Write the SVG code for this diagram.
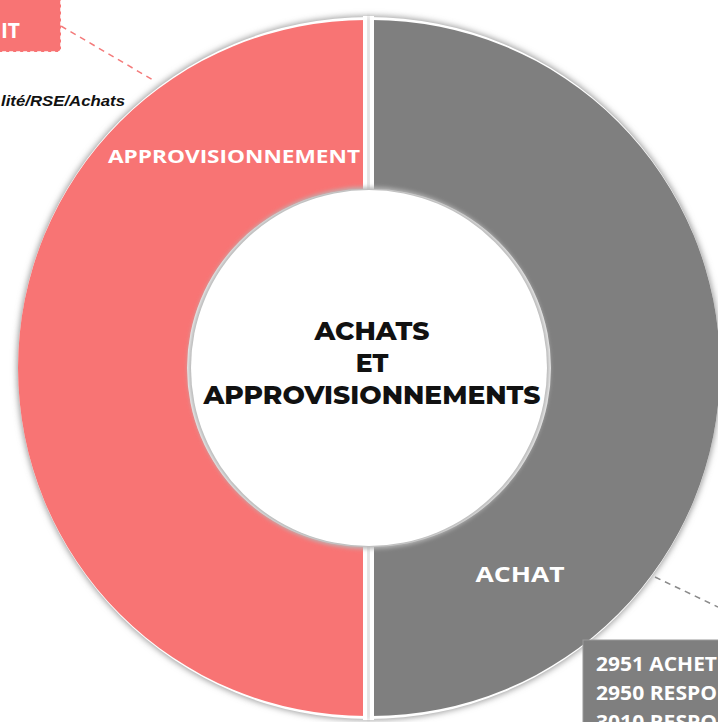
<svg xmlns="http://www.w3.org/2000/svg" width="718" height="722" viewBox="0 0 718 722">
<defs>
<style>
.lbl{font-family:"Open Sans","Liberation Sans",sans-serif;font-weight:700;fill:#fff}
.ctr{font-family:"Montserrat","Inter","Liberation Sans",sans-serif;font-weight:800;fill:#111;font-size:25px;text-anchor:middle}
.dash{fill:none;stroke-width:1.5;stroke-dasharray:6 5}
</style>
<filter id="sh" x="-10%" y="-10%" width="120%" height="120%">
<feGaussianBlur stdDeviation="3"/>
</filter>
<filter id="sh2" x="-10%" y="-10%" width="120%" height="120%">
<feGaussianBlur stdDeviation="2"/>
</filter>
</defs>
<rect width="718" height="722" fill="#fff"/>
<g id="connectors">
<line class="dash" x1="61" y1="26" x2="153" y2="80" stroke="#f47a7a"/>
<line class="dash" x1="655" y1="577" x2="718" y2="607" stroke="#8a8a8a"/>
</g>
<g id="node-it">
<rect x="-10" y="-10" width="71" height="62" rx="3" fill="#f87474" stroke="#fff" stroke-width="1.5" stroke-dasharray="4 3"/>
<text class="lbl" x="20" y="38" font-size="21" text-anchor="end">IT</text>
</g>
<text x="1" y="106" font-family="'Liberation Sans',sans-serif" font-weight="700" font-style="italic" font-size="15" fill="#111" textLength="124" lengthAdjust="spacingAndGlyphs">lité/RSE/Achats</text>
<g id="donut">
<circle cx="369" cy="368" r="352" fill="#9a9a9a" filter="url(#sh)"/>
<circle cx="369" cy="368" r="351" fill="#fff"/>
<g id="node-approvisionnement">
<path d="M366 20 A348 348 0 0 0 366 716 L366 547 A179 179 0 0 1 366 189 Z" fill="#f87474"/>
<text class="lbl" x="234" y="163" font-size="18" text-anchor="middle" textLength="252" lengthAdjust="spacingAndGlyphs">APPROVISIONNEMENT</text>
</g>
<g id="node-achat">
<path d="M372 20 A348 348 0 0 1 372 716 L372 547 A179 179 0 0 0 372 189 Z" fill="#7f7f7f"/>
<text class="lbl" x="520" y="582" font-size="22" text-anchor="middle" textLength="89" lengthAdjust="spacingAndGlyphs">ACHAT</text>
</g>
<rect x="363" y="16" width="11" height="704" fill="#fff"/>
<rect x="367.5" y="16" width="2" height="704" fill="#b0b0b0" filter="url(#sh2)"/>
<circle cx="369" cy="368" r="181" fill="#b8b8b8" filter="url(#sh2)"/>
<circle cx="369" cy="368" r="178" fill="#fff"/>
</g>
<g id="node-center">
<text class="ctr" x="372" y="340" textLength="115" lengthAdjust="spacingAndGlyphs">ACHATS</text>
<text class="ctr" x="372" y="372">ET</text>
<text class="ctr" x="372" y="404" textLength="337" lengthAdjust="spacingAndGlyphs">APPROVISIONNEMENTS</text>
</g>
<g id="node-roles">
<rect x="583" y="640" width="150" height="100" fill="#7f7f7f" stroke="#9a9a9a" stroke-width="1"/>
<text class="lbl" x="596" y="671" font-size="19" textLength="121" lengthAdjust="spacingAndGlyphs">2951 ACHET</text>
<text class="lbl" x="596" y="700" font-size="19" textLength="121" lengthAdjust="spacingAndGlyphs">2950 RESPO</text>
<text class="lbl" x="596" y="729" font-size="19" textLength="121" lengthAdjust="spacingAndGlyphs">3010 RESPO</text>
</g>
</svg>
